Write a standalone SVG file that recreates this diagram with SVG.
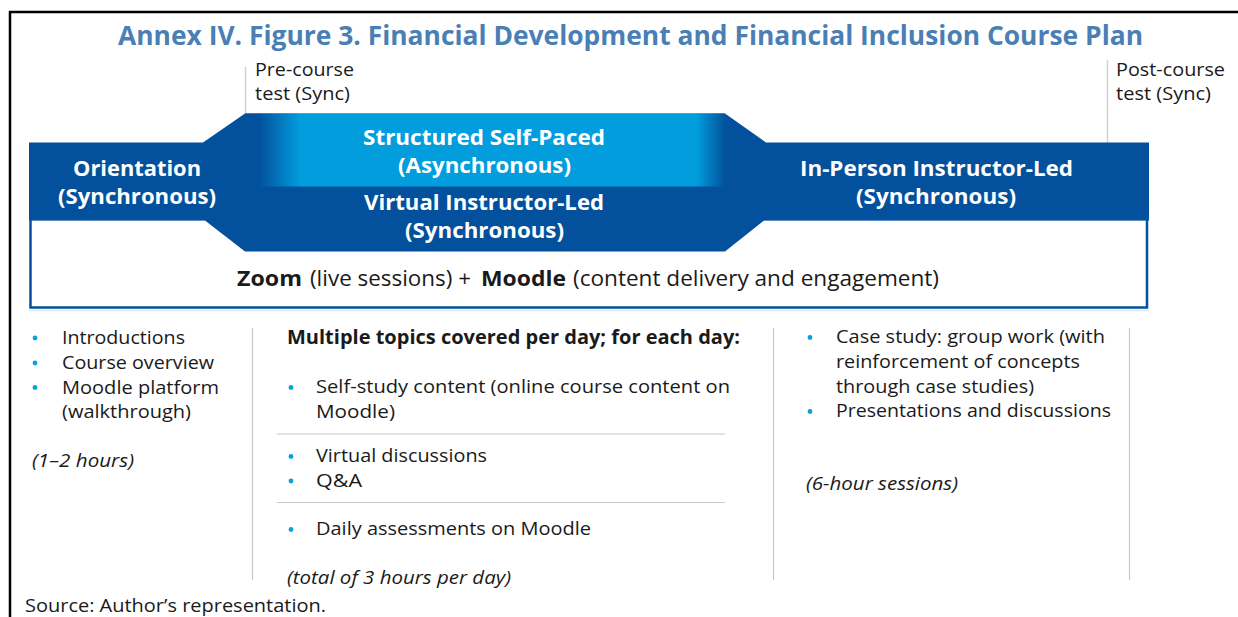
<svg xmlns="http://www.w3.org/2000/svg" width="1238" height="617" viewBox="0 0 1238 617">
<defs>
<linearGradient id="selfPaced" x1="245" y1="0" x2="725" y2="0" gradientUnits="userSpaceOnUse">
<stop offset="0" stop-color="#03519c"/>
<stop offset="0.03" stop-color="#03519c"/>
<stop offset="0.115" stop-color="#019ddd"/>
<stop offset="0.94" stop-color="#019ddd"/>
<stop offset="1" stop-color="#03519c"/>
</linearGradient>
<style>
text{font-family:"Open Sans","Noto Sans","Liberation Sans",sans-serif;}
.title{font-size:26.5px;font-weight:bold;fill:#4a7fb6;}
.band{font-size:21px;font-weight:bold;fill:#ffffff;text-anchor:middle;}
.body{font-size:18.7px;fill:#1a1a1a;}
.bold{font-weight:bold;}
.it{font-style:italic;}
.bullet{fill:#0aa0e0;}
.rule{stroke:#c8c8c8;stroke-width:1.2;fill:none;}
.mark{stroke:#d0d0d0;stroke-width:1.5;fill:none;}
</style>
</defs>
<rect x="0" y="0" width="1238" height="617" fill="#ffffff"/>
<!-- outer frame -->
<path d="M10 617 V12 H1238" fill="none" stroke="#000000" stroke-width="2.5"/>
<text class="title" x="118" y="45" textLength="1025" lengthAdjust="spacingAndGlyphs">Annex IV. Figure 3. Financial Development and Financial Inclusion Course Plan</text>

<g id="connectors">
<line class="mark" x1="245.5" y1="67" x2="245.5" y2="114"/>
<line class="mark" x1="1107.5" y1="60" x2="1107.5" y2="143"/>
</g>

<g id="pre-course">
<text class="body" x="255" y="75.5" textLength="99" lengthAdjust="spacingAndGlyphs">Pre-course</text>
<text class="body" x="255" y="100" textLength="95" lengthAdjust="spacingAndGlyphs">test (Sync)</text>
</g>
<g id="post-course">
<text class="body" x="1116" y="75.5" textLength="109" lengthAdjust="spacingAndGlyphs">Post-course</text>
<text class="body" x="1116" y="100" textLength="95" lengthAdjust="spacingAndGlyphs">test (Sync)</text>
</g>

<g id="platform">
<rect x="30.5" y="219" width="1116.5" height="88.5" fill="#ffffff" stroke="#03519c" stroke-width="2.5"/>
<line x1="29" y1="310.5" x2="1149" y2="310.5" stroke="#dce7f3" stroke-width="1.5"/>
<text class="body" x="237" y="285.5" style="font-size:21px" textLength="65" lengthAdjust="spacingAndGlyphs" font-weight="bold">Zoom</text>
<text class="body" x="310" y="285.5" style="font-size:21px" textLength="161" lengthAdjust="spacingAndGlyphs">(live sessions) +</text>
<text class="body" x="481" y="285.5" style="font-size:21px" textLength="85" lengthAdjust="spacingAndGlyphs" font-weight="bold">Moodle</text>
<text class="body" x="573" y="285.5" style="font-size:21px" textLength="366" lengthAdjust="spacingAndGlyphs">(content delivery and engagement)</text>
</g>

<g id="banner">
<path d="M29 142.5 H203 L245 113.5 H725 L766 142.5 H1149 V220.5 H764 L725 251.5 H245 L205 220.5 H29 Z" fill="#03519c"/>
<rect x="245" y="113.5" width="480" height="73" fill="url(#selfPaced)"/>
</g>

<g id="orientation">
<text class="band" x="137" y="175.5" textLength="128" lengthAdjust="spacingAndGlyphs">Orientation</text>
<text class="band" x="137" y="203.5" textLength="158" lengthAdjust="spacingAndGlyphs">(Synchronous)</text>
</g>
<g id="self-paced">
<text class="band" x="484" y="145" textLength="242" lengthAdjust="spacingAndGlyphs">Structured Self-Paced</text>
<text class="band" x="484.5" y="173" textLength="173" lengthAdjust="spacingAndGlyphs">(Asynchronous)</text>
</g>
<g id="virtual">
<text class="band" x="484" y="209.5" textLength="240" lengthAdjust="spacingAndGlyphs">Virtual Instructor-Led</text>
<text class="band" x="484.5" y="237.5" textLength="159" lengthAdjust="spacingAndGlyphs">(Synchronous)</text>
</g>
<g id="in-person">
<text class="band" x="936.5" y="175.5" textLength="273" lengthAdjust="spacingAndGlyphs">In-Person Instructor-Led</text>
<text class="band" x="936" y="203.5" textLength="160" lengthAdjust="spacingAndGlyphs">(Synchronous)</text>
</g>

<g id="dividers">
<line class="rule" x1="252.5" y1="328" x2="252.5" y2="580"/>
<line class="rule" x1="773.5" y1="328" x2="773.5" y2="580"/>
<line class="rule" x1="1129.5" y1="328" x2="1129.5" y2="580"/>
</g>

<g id="orientation-details">
<circle class="bullet" cx="35" cy="338" r="2.4"/>
<circle class="bullet" cx="35" cy="363" r="2.4"/>
<circle class="bullet" cx="35" cy="387.5" r="2.4"/>
<text class="body" x="62" y="344" textLength="123" lengthAdjust="spacingAndGlyphs">Introductions</text>
<text class="body" x="62" y="369" textLength="152" lengthAdjust="spacingAndGlyphs">Course overview</text>
<text class="body" x="62" y="393.5" textLength="157" lengthAdjust="spacingAndGlyphs">Moodle platform</text>
<text class="body" x="62" y="418" textLength="129" lengthAdjust="spacingAndGlyphs">(walkthrough)</text>
<text class="body it" x="32" y="467" textLength="102" lengthAdjust="spacingAndGlyphs">(1–2 hours)</text>
</g>

<g id="virtual-details">
<text class="body bold" x="287" y="343.5" textLength="453" lengthAdjust="spacingAndGlyphs">Multiple topics covered per day; for each day:</text>
<circle class="bullet" cx="291" cy="387.5" r="2.4"/>
<text class="body" x="316" y="393" textLength="414" lengthAdjust="spacingAndGlyphs">Self-study content (online course content on</text>
<text class="body" x="316" y="417.5" textLength="79" lengthAdjust="spacingAndGlyphs">Moodle)</text>
<line class="rule" x1="277" y1="434" x2="725" y2="434"/>
<circle class="bullet" cx="291" cy="456.5" r="2.4"/>
<circle class="bullet" cx="291" cy="481" r="2.4"/>
<text class="body" x="316" y="462" textLength="171" lengthAdjust="spacingAndGlyphs">Virtual discussions</text>
<text class="body" x="316" y="486.5" textLength="46" lengthAdjust="spacingAndGlyphs">Q&amp;A</text>
<line class="rule" x1="277" y1="502.5" x2="725" y2="502.5"/>
<circle class="bullet" cx="291" cy="529.5" r="2.4"/>
<text class="body" x="316" y="535" textLength="275" lengthAdjust="spacingAndGlyphs">Daily assessments on Moodle</text>
<text class="body it" x="287" y="583.5" textLength="224" lengthAdjust="spacingAndGlyphs">(total of 3 hours per day)</text>
</g>

<g id="in-person-details">
<circle class="bullet" cx="810" cy="337.5" r="2.4"/>
<text class="body" x="836" y="343" textLength="269" lengthAdjust="spacingAndGlyphs">Case study: group work (with</text>
<text class="body" x="836" y="368" textLength="244" lengthAdjust="spacingAndGlyphs">reinforcement of concepts</text>
<text class="body" x="836" y="392.5" textLength="198" lengthAdjust="spacingAndGlyphs">through case studies)</text>
<circle class="bullet" cx="810" cy="411.5" r="2.4"/>
<text class="body" x="836" y="417" textLength="275" lengthAdjust="spacingAndGlyphs">Presentations and discussions</text>
<text class="body it" x="806" y="490" textLength="152" lengthAdjust="spacingAndGlyphs">(6-hour sessions)</text>
</g>

<text class="body" x="25" y="612" textLength="301" lengthAdjust="spacingAndGlyphs">Source: Author’s representation.</text>
</svg>
